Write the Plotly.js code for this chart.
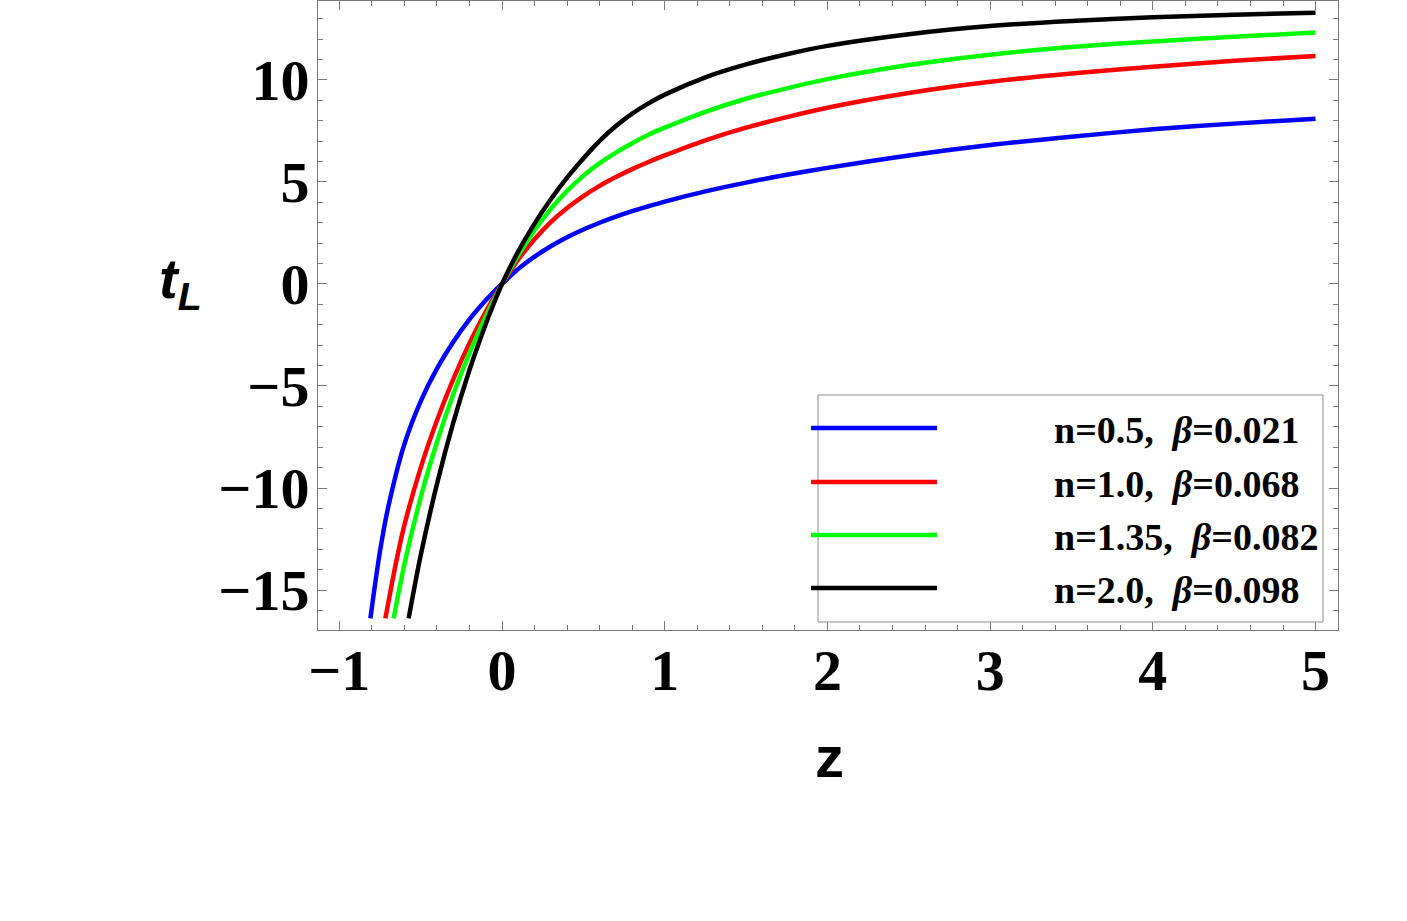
<!DOCTYPE html>
<html>
<head>
<meta charset="utf-8">
<script src="https://cdn.plot.ly/plotly-3.0.1.min.js"></script>
<style>
  html, body { margin: 0; padding: 0; background: #fff; }
  #plot { width: 1407px; height: 921px; }
</style>
</head>
<body>
<div id="plot"></div>
<script>
// Lookback time t_L versus redshift z for four (n, beta) parameter pairs
const seriesNames = ["n=0.5,  <i>β</i>=0.021", "n=1.0,  <i>β</i>=0.068", "n=1.35,  <i>β</i>=0.082", "n=2.0,  <i>β</i>=0.098"];
const seriesColors = ["#0000ff", "#ff0000", "#00ff00", "#000000"];

const zBlue = [-0.809, -0.75, -0.7, -0.6, -0.5, -0.4, -0.3, -0.2, -0.1, -0.05, 0, 0.1, 0.2, 0.3, 0.4, 0.5, 0.6, 0.7, 0.8, 0.9, 1.0, 1.25, 1.5, 1.75, 2, 2.5, 3, 3.5, 4, 4.5, 5];
const tBlue = [-16.39, -13.10, -10.96, -7.85, -5.75, -4.15, -2.84, -1.73, -0.80, -0.38, 0, 0.74, 1.34, 1.85, 2.29, 2.67, 3.00, 3.30, 3.57, 3.81, 4.04, 4.54, 4.97, 5.35, 5.69, 6.30, 6.81, 7.22, 7.58, 7.86, 8.10];

const zRed = [-0.717, -0.65, -0.6, -0.5, -0.4, -0.3, -0.2, -0.1, -0.05, 0, 0.1, 0.2, 0.3, 0.4, 0.5, 0.6, 0.7, 0.8, 0.9, 1.0, 1.25, 1.5, 1.75, 2, 2.5, 3, 3.5, 4, 4.5, 5];
const tRed = [-16.39, -13.60, -11.82, -9.01, -6.69, -4.67, -2.90, -1.36, -0.66, 0, 1.20, 2.19, 3.03, 3.72, 4.31, 4.81, 5.24, 5.63, 5.98, 6.30, 7.04, 7.66, 8.18, 8.64, 9.36, 9.91, 10.32, 10.65, 10.94, 11.18];

const zGreen = [-0.666, -0.6, -0.5, -0.4, -0.3, -0.2, -0.1, -0.05, 0, 0.1, 0.2, 0.3, 0.4, 0.5, 0.6, 0.7, 0.8, 0.9, 1.0, 1.25, 1.5, 1.75, 2, 2.5, 3, 3.5, 4, 4.5, 5];
const tGreen = [-16.39, -13.74, -10.47, -7.76, -5.42, -3.39, -1.59, -0.77, 0, 1.41, 2.63, 3.68, 4.56, 5.30, 5.92, 6.44, 6.90, 7.31, 7.66, 8.44, 9.08, 9.59, 10.04, 10.73, 11.24, 11.61, 11.89, 12.12, 12.32];

const zBlack = [-0.574, -0.5, -0.4, -0.3, -0.2, -0.1, -0.05, 0, 0.1, 0.2, 0.3, 0.4, 0.5, 0.6, 0.7, 0.8, 0.9, 1.0, 1.25, 1.5, 1.75, 2, 2.5, 3, 3.5, 4, 4.5, 5];
const tBlack = [-16.39, -13.31, -9.81, -6.81, -4.22, -1.96, -0.94, 0, 1.60, 2.96, 4.15, 5.21, 6.15, 7.01, 7.74, 8.35, 8.85, 9.28, 10.13, 10.76, 11.26, 11.67, 12.24, 12.64, 12.89, 13.07, 13.20, 13.30];

const xTickVals = [-1, 0, 1, 2, 3, 4, 5];
const yTickVals = [-15, -10, -5, 0, 5, 10];

const zSets = [zBlue, zRed, zGreen, zBlack];
const tSets = [tBlue, tRed, tGreen, tBlack];

const traces = zSets.map((zs, i) => ({
  x: zs,
  y: tSets[i],
  type: "scatter",
  mode: "lines",
  line: { color: seriesColors[i], width: 4.5, shape: "spline", smoothing: 0.8 },
  name: seriesNames[i],
  showlegend: false,
  hoverinfo: "skip"
}));

// Plot-area geometry (pixels) used to place the hand-drawn legend and titles
const W = 1407, H = 921;
const L = 318, R = 69, T = 1, B = 291;
const pw = W - L - R, ph = H - T - B;
const px = v => (v - L) / pw;
const py = v => (H - B - v) / ph;

const frameGray = "#7a7a7a";
const tickFont = { family: "Liberation Serif, Times New Roman, serif", size: 58, color: "#000", weight: "bold" };

const axisCommon = {
  showgrid: false,
  zeroline: false,
  showline: true,
  linecolor: frameGray,
  linewidth: 1,
  mirror: "allticks",
  ticks: "inside",
  ticklen: 9,
  tickwidth: 1,
  tickcolor: frameGray,
  tickfont: tickFont,
  fixedrange: true
};

const legendRows = [428, 482, 535, 588];
const shapes = [{
  type: "rect", xref: "paper", yref: "paper",
  x0: px(818), x1: px(1323), y0: py(622), y1: py(395),
  line: { color: "#8c8c8c", width: 1 }, fillcolor: "#fff", layer: "above"
}];
const annotations = [];
legendRows.forEach((ry, i) => {
  shapes.push({
    type: "line", xref: "paper", yref: "paper",
    x0: px(811), x1: px(937), y0: py(ry), y1: py(ry),
    line: { color: seriesColors[i], width: 4.5 }, layer: "above"
  });
  annotations.push({
    xref: "paper", yref: "paper", x: px(1052), y: py(ry + 2),
    xanchor: "left", yanchor: "middle", showarrow: false,
    text: "<b>" + seriesNames[i] + "</b>",
    font: { family: "Liberation Serif, Times New Roman, serif", size: 38, color: "#000" }
  });
});

// axis titles
annotations.push({
  xref: "paper", yref: "paper", x: px(829), y: py(756),
  xanchor: "center", yanchor: "middle", showarrow: false,
  text: "<b>z</b>",
  font: { family: "Liberation Sans, Arial, sans-serif", size: 58, color: "#000" }
});
annotations.push({
  xref: "paper", yref: "paper", x: px(180), y: py(282),
  xanchor: "center", yanchor: "middle", showarrow: false,
  text: "<b><i>t</i><sub><i>L</i></sub></b>",
  font: { family: "Liberation Sans, Arial, sans-serif", size: 56, color: "#000" }
});

const layout = {
  width: W, height: H,
  margin: { l: L, r: R, t: T, b: B, pad: 0 },
  paper_bgcolor: "#fff",
  plot_bgcolor: "#fff",
  showlegend: false,
  xaxis: Object.assign({}, axisCommon, {
    range: [-1.131, 5.138],
    tickvals: xTickVals,
    ticktext: xTickVals.map(v => v < 0 ? "\u2212" + Math.abs(v) : String(v)),
    ticklabelstandoff: -11,
    minor: { dtick: 0.2, ticks: "inside", ticklen: 5, tickcolor: frameGray, tickwidth: 1, showgrid: false }
  }),
  yaxis: Object.assign({}, axisCommon, {
    range: [-16.96, 13.87],
    tickvals: yTickVals,
    ticktext: yTickVals.map(v => v < 0 ? "\u2212" + Math.abs(v) : String(v)),
    ticklabelstandoff: -4,
    minor: { dtick: 1, ticks: "inside", ticklen: 5, tickcolor: frameGray, tickwidth: 1, showgrid: false }
  }),
  shapes: shapes,
  annotations: annotations
};

Plotly.newPlot("plot", traces, layout, { displayModeBar: false, staticPlot: true });
</script>
</body>
</html>
